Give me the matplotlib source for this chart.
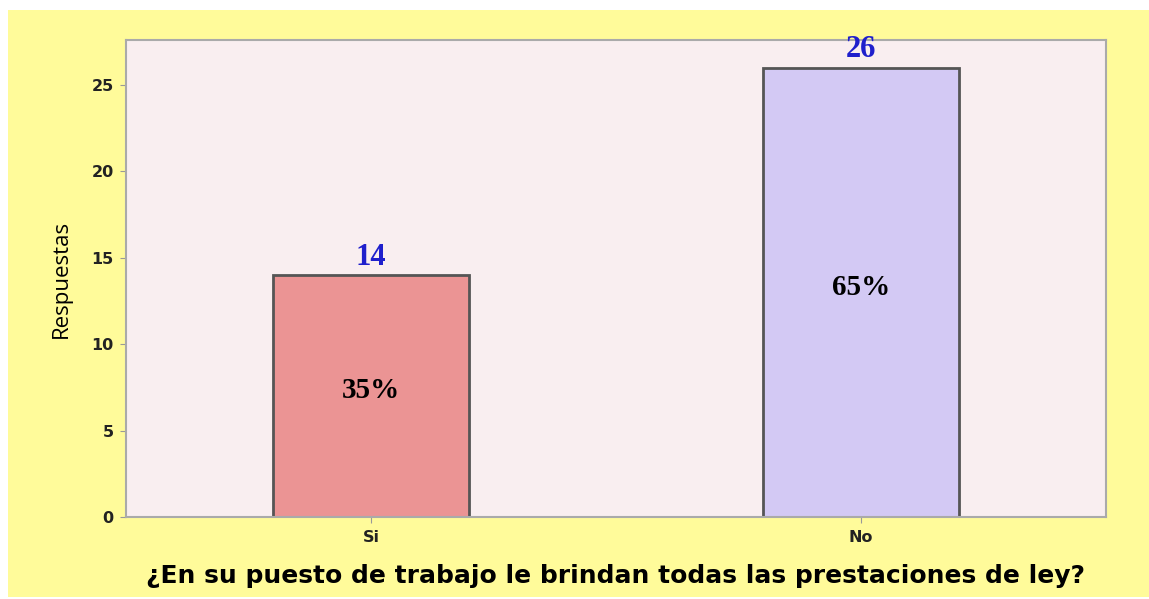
import matplotlib.pyplot as plt
import matplotlib.patches as patches

categorias = ["Si", "No"]
respuestas = [14, 26]
porcentajes = ["35%", "65%"]
colores = ["#EB9494", "#D3C9F4"]

fig = plt.figure(figsize=(11.49, 5.99), dpi=100)
fig.patch.set_facecolor("white")
# fondo amarillo (detras de los ejes)
fondo = patches.Rectangle((8 / 1149, 2 / 599), 1 - 8 / 1149, 1 - 12 / 599,
                          transform=fig.transFigure, facecolor="#FFFB9A",
                          edgecolor="none", zorder=-10)
fig.add_artist(fondo)

ax = fig.add_axes([126 / 1149, 1 - 517 / 599, 980 / 1149, 477 / 599])
ax.set_facecolor("#F9EEF0")

x = range(len(categorias))
barras = ax.bar(x, respuestas, width=0.4, color=colores, edgecolor="#555555", linewidth=2)

for i, b in enumerate(barras):
    h = b.get_height()
    ax.text(b.get_x() + b.get_width() / 2, h + 0.2, str(respuestas[i]), ha="center", va="bottom",
            family="Liberation Serif", fontweight="bold", fontsize=22, color="#1F1FCC")
    ax.text(b.get_x() + b.get_width() / 2, h / 2 + 0.3, porcentajes[i], ha="center", va="center",
            family="Liberation Serif", fontweight="bold", fontsize=21, color="black")

ax.set_xlim(-0.5, 1.5)
ax.set_ylim(0, 27.6)
ax.set_yticks([0, 5, 10, 15, 20, 25])
ax.set_xticks(list(x))
ax.set_xticklabels(categorias)

for s in ax.spines.values():
    s.set_color("#AAAAAA")
    s.set_linewidth(1.5)
ax.tick_params(colors="#999999", labelcolor="#222222", length=4, pad=5)
for lab in ax.get_xticklabels() + ax.get_yticklabels():
    lab.set_fontweight("bold")
    lab.set_fontsize(11.5)

ax.set_ylabel("Respuestas", family="Open Sans", fontsize=16, labelpad=14)
ax.set_xlabel("¿En su puesto de trabajo le brindan todas las prestaciones de ley?",
              fontsize=18, fontweight="bold", labelpad=14)

fig.savefig("out.png", dpi=100, facecolor=fig.get_facecolor())
